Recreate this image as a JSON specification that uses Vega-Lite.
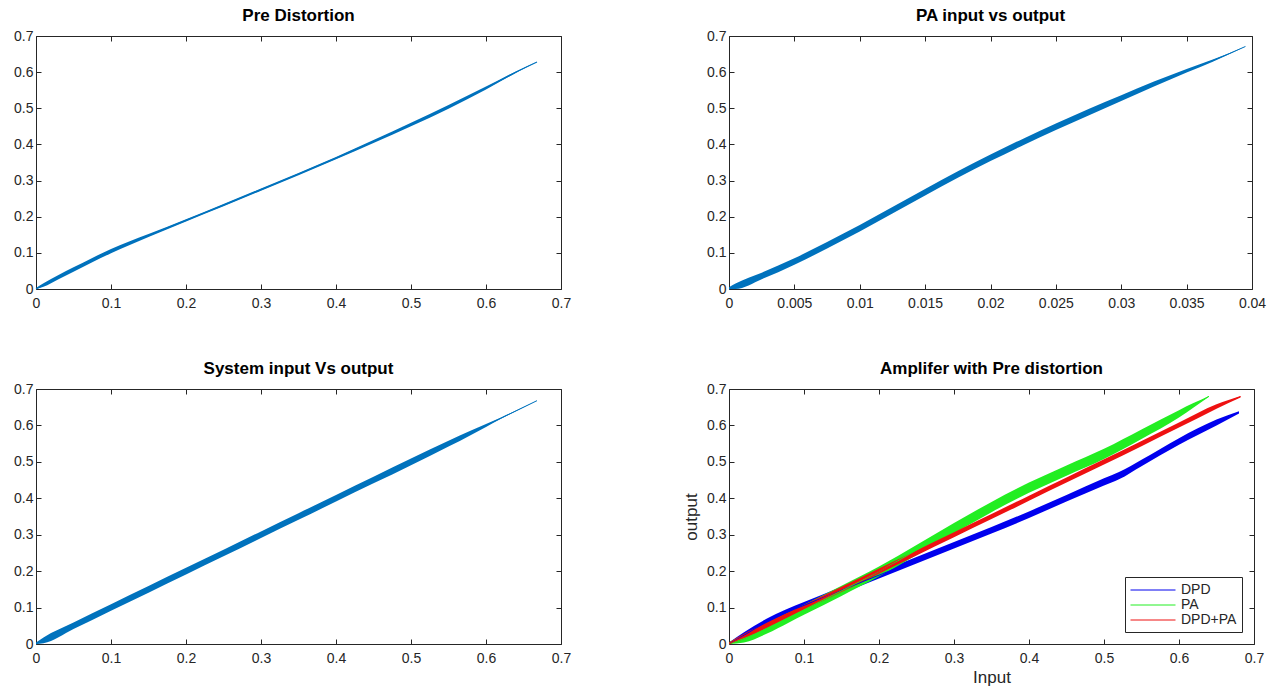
{
  "$schema": "https://vega.github.io/schema/vega-lite/v6.json",
  "padding": {"left": 13, "top": 7, "right": 5, "bottom": 5},
  "background": "white",
  "datasets": {
    "pre": [
      {"x": 0, "y": 0, "lo": 0, "hi": 0.003},
      {"x": 0.01, "y": 0.011, "lo": 0.006, "hi": 0.016},
      {"x": 0.03, "y": 0.033, "lo": 0.027, "hi": 0.039},
      {"x": 0.05, "y": 0.054, "lo": 0.048, "hi": 0.06},
      {"x": 0.075, "y": 0.08, "lo": 0.074, "hi": 0.086},
      {"x": 0.1, "y": 0.105, "lo": 0.099, "hi": 0.111},
      {"x": 0.125, "y": 0.127, "lo": 0.122, "hi": 0.132},
      {"x": 0.15, "y": 0.148, "lo": 0.144, "hi": 0.152},
      {"x": 0.2, "y": 0.19, "lo": 0.187, "hi": 0.193},
      {"x": 0.25, "y": 0.232, "lo": 0.229, "hi": 0.235},
      {"x": 0.3, "y": 0.275, "lo": 0.272, "hi": 0.278},
      {"x": 0.35, "y": 0.318, "lo": 0.315, "hi": 0.321},
      {"x": 0.4, "y": 0.362, "lo": 0.359, "hi": 0.365},
      {"x": 0.45, "y": 0.408, "lo": 0.404, "hi": 0.412},
      {"x": 0.5, "y": 0.455, "lo": 0.45, "hi": 0.46},
      {"x": 0.55, "y": 0.504, "lo": 0.499, "hi": 0.509},
      {"x": 0.6, "y": 0.556, "lo": 0.552, "hi": 0.56},
      {"x": 0.64, "y": 0.6, "lo": 0.598, "hi": 0.602},
      {"x": 0.668, "y": 0.628, "lo": 0.628, "hi": 0.628}
    ],
    "pa": [
      {"x": 0, "y": 0, "lo": 0, "hi": 0.005},
      {"x": 0.0005, "y": 0.006, "lo": 0, "hi": 0.015},
      {"x": 0.0025, "y": 0.036, "lo": 0.027, "hi": 0.045},
      {"x": 0.005, "y": 0.076, "lo": 0.067, "hi": 0.085},
      {"x": 0.0075, "y": 0.121, "lo": 0.112, "hi": 0.13},
      {"x": 0.01, "y": 0.168, "lo": 0.159, "hi": 0.177},
      {"x": 0.0125, "y": 0.218, "lo": 0.209, "hi": 0.227},
      {"x": 0.015, "y": 0.268, "lo": 0.259, "hi": 0.277},
      {"x": 0.0175, "y": 0.317, "lo": 0.308, "hi": 0.326},
      {"x": 0.02, "y": 0.363, "lo": 0.354, "hi": 0.372},
      {"x": 0.0225, "y": 0.407, "lo": 0.398, "hi": 0.416},
      {"x": 0.025, "y": 0.449, "lo": 0.44, "hi": 0.458},
      {"x": 0.0275, "y": 0.489, "lo": 0.48, "hi": 0.498},
      {"x": 0.03, "y": 0.528, "lo": 0.52, "hi": 0.536},
      {"x": 0.0325, "y": 0.567, "lo": 0.56, "hi": 0.574},
      {"x": 0.035, "y": 0.604, "lo": 0.599, "hi": 0.609},
      {"x": 0.037, "y": 0.632, "lo": 0.629, "hi": 0.635},
      {"x": 0.0395, "y": 0.671, "lo": 0.671, "hi": 0.671}
    ],
    "sys": [
      {"x": 0, "y": 0, "lo": 0, "hi": 0.004},
      {"x": 0.01, "y": 0.01, "lo": 0.002, "hi": 0.018},
      {"x": 0.05, "y": 0.05, "lo": 0.041, "hi": 0.059},
      {"x": 0.1, "y": 0.1, "lo": 0.091, "hi": 0.109},
      {"x": 0.15, "y": 0.15, "lo": 0.141, "hi": 0.159},
      {"x": 0.2, "y": 0.2, "lo": 0.191, "hi": 0.209},
      {"x": 0.25, "y": 0.25, "lo": 0.241, "hi": 0.259},
      {"x": 0.3, "y": 0.3, "lo": 0.291, "hi": 0.309},
      {"x": 0.35, "y": 0.35, "lo": 0.341, "hi": 0.359},
      {"x": 0.4, "y": 0.4, "lo": 0.391, "hi": 0.409},
      {"x": 0.45, "y": 0.45, "lo": 0.441, "hi": 0.459},
      {"x": 0.5, "y": 0.5, "lo": 0.491, "hi": 0.509},
      {"x": 0.55, "y": 0.55, "lo": 0.542, "hi": 0.558},
      {"x": 0.58, "y": 0.58, "lo": 0.574, "hi": 0.586},
      {"x": 0.6, "y": 0.6, "lo": 0.596, "hi": 0.604},
      {"x": 0.62, "y": 0.62, "lo": 0.618, "hi": 0.622},
      {"x": 0.668, "y": 0.668, "lo": 0.668, "hi": 0.668}
    ],
    "amp": [
      {"s": "DPD", "x": 0, "y": 0, "lo": 0, "hi": 0.004},
      {"s": "DPD", "x": 0.02, "y": 0.024, "lo": 0.016, "hi": 0.032},
      {"s": "DPD", "x": 0.05, "y": 0.06, "lo": 0.051, "hi": 0.069},
      {"s": "DPD", "x": 0.075, "y": 0.085, "lo": 0.076, "hi": 0.094},
      {"s": "DPD", "x": 0.1, "y": 0.106, "lo": 0.097, "hi": 0.115},
      {"s": "DPD", "x": 0.15, "y": 0.148, "lo": 0.139, "hi": 0.157},
      {"s": "DPD", "x": 0.2, "y": 0.189, "lo": 0.18, "hi": 0.198},
      {"s": "DPD", "x": 0.25, "y": 0.23, "lo": 0.221, "hi": 0.239},
      {"s": "DPD", "x": 0.3, "y": 0.271, "lo": 0.262, "hi": 0.28},
      {"s": "DPD", "x": 0.35, "y": 0.312, "lo": 0.303, "hi": 0.321},
      {"s": "DPD", "x": 0.4, "y": 0.355, "lo": 0.346, "hi": 0.364},
      {"s": "DPD", "x": 0.45, "y": 0.4, "lo": 0.391, "hi": 0.409},
      {"s": "DPD", "x": 0.5, "y": 0.445, "lo": 0.435, "hi": 0.455},
      {"s": "DPD", "x": 0.52, "y": 0.462, "lo": 0.452, "hi": 0.472},
      {"s": "DPD", "x": 0.55, "y": 0.497, "lo": 0.488, "hi": 0.506},
      {"s": "DPD", "x": 0.6, "y": 0.556, "lo": 0.547, "hi": 0.565},
      {"s": "DPD", "x": 0.65, "y": 0.608, "lo": 0.6, "hi": 0.616},
      {"s": "DPD", "x": 0.68, "y": 0.636, "lo": 0.633, "hi": 0.639},
      {"s": "PA", "x": 0, "y": 0, "lo": 0, "hi": 0.005},
      {"s": "PA", "x": 0.02, "y": 0.015, "lo": 0.004, "hi": 0.026},
      {"s": "PA", "x": 0.05, "y": 0.042, "lo": 0.028, "hi": 0.056},
      {"s": "PA", "x": 0.08, "y": 0.073, "lo": 0.059, "hi": 0.087},
      {"s": "PA", "x": 0.1, "y": 0.094, "lo": 0.08, "hi": 0.108},
      {"s": "PA", "x": 0.15, "y": 0.146, "lo": 0.132, "hi": 0.16},
      {"s": "PA", "x": 0.2, "y": 0.199, "lo": 0.185, "hi": 0.213},
      {"s": "PA", "x": 0.25, "y": 0.258, "lo": 0.244, "hi": 0.272},
      {"s": "PA", "x": 0.3, "y": 0.318, "lo": 0.304, "hi": 0.332},
      {"s": "PA", "x": 0.35, "y": 0.376, "lo": 0.362, "hi": 0.39},
      {"s": "PA", "x": 0.4, "y": 0.429, "lo": 0.415, "hi": 0.443},
      {"s": "PA", "x": 0.45, "y": 0.476, "lo": 0.462, "hi": 0.49},
      {"s": "PA", "x": 0.5, "y": 0.522, "lo": 0.508, "hi": 0.536},
      {"s": "PA", "x": 0.55, "y": 0.576, "lo": 0.563, "hi": 0.589},
      {"s": "PA", "x": 0.6, "y": 0.632, "lo": 0.622, "hi": 0.642},
      {"s": "PA", "x": 0.62, "y": 0.656, "lo": 0.65, "hi": 0.662},
      {"s": "PA", "x": 0.64, "y": 0.68, "lo": 0.679, "hi": 0.681},
      {"s": "DPD+PA", "x": 0, "y": 0, "lo": 0, "hi": 0.004},
      {"s": "DPD+PA", "x": 0.02, "y": 0.021, "lo": 0.014, "hi": 0.028},
      {"s": "DPD+PA", "x": 0.05, "y": 0.051, "lo": 0.044, "hi": 0.058},
      {"s": "DPD+PA", "x": 0.1, "y": 0.101, "lo": 0.094, "hi": 0.108},
      {"s": "DPD+PA", "x": 0.15, "y": 0.15, "lo": 0.143, "hi": 0.157},
      {"s": "DPD+PA", "x": 0.2, "y": 0.2, "lo": 0.193, "hi": 0.207},
      {"s": "DPD+PA", "x": 0.25, "y": 0.25, "lo": 0.243, "hi": 0.257},
      {"s": "DPD+PA", "x": 0.3, "y": 0.3, "lo": 0.293, "hi": 0.307},
      {"s": "DPD+PA", "x": 0.35, "y": 0.35, "lo": 0.343, "hi": 0.357},
      {"s": "DPD+PA", "x": 0.4, "y": 0.4, "lo": 0.393, "hi": 0.407},
      {"s": "DPD+PA", "x": 0.45, "y": 0.45, "lo": 0.443, "hi": 0.457},
      {"s": "DPD+PA", "x": 0.5, "y": 0.5, "lo": 0.493, "hi": 0.507},
      {"s": "DPD+PA", "x": 0.55, "y": 0.55, "lo": 0.543, "hi": 0.557},
      {"s": "DPD+PA", "x": 0.6, "y": 0.601, "lo": 0.594, "hi": 0.608},
      {"s": "DPD+PA", "x": 0.65, "y": 0.652, "lo": 0.646, "hi": 0.658},
      {"s": "DPD+PA", "x": 0.682, "y": 0.679, "lo": 0.677, "hi": 0.681}
    ]
  },
  "columns": 2,
  "spacing": {"row": 100, "column": 168},
  "bounds": "flush",
  "resolve": {"scale": {"color": "independent"}, "legend": {"color": "independent"}},
  "concat": [
    {
      "width": 525, "height": 253,
      "title": "Pre Distortion",
      "data": {"name": "pre"},
      "layer": [
        {
          "mark": {"type": "area", "color": "#0072BD", "interpolate": "monotone"},
          "encoding": {
            "x": {"field": "x", "type": "quantitative", "scale": {"domain": [0, 0.7], "nice": false}, "axis": {"orient": "bottom", "values": [0, 0.1, 0.2, 0.3, 0.4, 0.5, 0.6, 0.7], "format": "~g"}},
            "y": {"field": "lo", "type": "quantitative", "scale": {"domain": [0, 0.7], "nice": false}, "axis": {"orient": "left", "values": [0, 0.1, 0.2, 0.3, 0.4, 0.5, 0.6, 0.7], "format": "~g"}},
            "y2": {"field": "hi"}
          }
        },
        {
          "mark": {"type": "line", "color": "#0072BD", "strokeWidth": 1.2, "interpolate": "monotone"},
          "encoding": {
            "x": {"field": "x", "type": "quantitative", "axis": {"orient": "top", "labels": false, "values": [0, 0.1, 0.2, 0.3, 0.4, 0.5, 0.6, 0.7]}},
            "y": {"field": "y", "type": "quantitative", "axis": {"orient": "right", "labels": false, "values": [0, 0.1, 0.2, 0.3, 0.4, 0.5, 0.6, 0.7]}}
          }
        }
      ],
      "resolve": {"axis": {"x": "independent", "y": "independent"}}
    },
    {
      "width": 523, "height": 253,
      "title": "PA input vs output",
      "data": {"name": "pa"},
      "layer": [
        {
          "mark": {"type": "area", "color": "#0072BD", "interpolate": "monotone"},
          "encoding": {
            "x": {"field": "x", "type": "quantitative", "scale": {"domain": [0, 0.04], "nice": false}, "axis": {"orient": "bottom", "values": [0, 0.005, 0.01, 0.015, 0.02, 0.025, 0.03, 0.035, 0.04], "format": "~g"}},
            "y": {"field": "lo", "type": "quantitative", "scale": {"domain": [0, 0.7], "nice": false}, "axis": {"orient": "left", "values": [0, 0.1, 0.2, 0.3, 0.4, 0.5, 0.6, 0.7], "format": "~g"}},
            "y2": {"field": "hi"}
          }
        },
        {
          "mark": {"type": "line", "color": "#0072BD", "strokeWidth": 1, "interpolate": "monotone"},
          "encoding": {
            "x": {"field": "x", "type": "quantitative", "axis": {"orient": "top", "labels": false, "values": [0, 0.005, 0.01, 0.015, 0.02, 0.025, 0.03, 0.035, 0.04]}},
            "y": {"field": "y", "type": "quantitative", "axis": {"orient": "right", "labels": false, "values": [0, 0.1, 0.2, 0.3, 0.4, 0.5, 0.6, 0.7]}}
          }
        }
      ],
      "resolve": {"axis": {"x": "independent", "y": "independent"}}
    },
    {
      "width": 525, "height": 255,
      "title": "System input Vs output",
      "data": {"name": "sys"},
      "layer": [
        {
          "mark": {"type": "area", "color": "#0072BD", "interpolate": "monotone"},
          "encoding": {
            "x": {"field": "x", "type": "quantitative", "scale": {"domain": [0, 0.7], "nice": false}, "axis": {"orient": "bottom", "values": [0, 0.1, 0.2, 0.3, 0.4, 0.5, 0.6, 0.7], "format": "~g"}},
            "y": {"field": "lo", "type": "quantitative", "scale": {"domain": [0, 0.7], "nice": false}, "axis": {"orient": "left", "values": [0, 0.1, 0.2, 0.3, 0.4, 0.5, 0.6, 0.7], "format": "~g"}},
            "y2": {"field": "hi"}
          }
        },
        {
          "mark": {"type": "line", "color": "#0072BD", "strokeWidth": 1, "interpolate": "monotone"},
          "encoding": {
            "x": {"field": "x", "type": "quantitative", "axis": {"orient": "top", "labels": false, "values": [0, 0.1, 0.2, 0.3, 0.4, 0.5, 0.6, 0.7]}},
            "y": {"field": "y", "type": "quantitative", "axis": {"orient": "right", "labels": false, "values": [0, 0.1, 0.2, 0.3, 0.4, 0.5, 0.6, 0.7]}}
          }
        }
      ],
      "resolve": {"axis": {"x": "independent", "y": "independent"}}
    },
    {
      "width": 525, "height": 255,
      "title": "Amplifer with Pre distortion",
      "data": {"name": "amp"},
      "layer": [
        {
          "mark": {"type": "area", "interpolate": "monotone"},
          "encoding": {
            "x": {"field": "x", "type": "quantitative", "scale": {"domain": [0, 0.7], "nice": false}, "axis": {"orient": "bottom", "values": [0, 0.1, 0.2, 0.3, 0.4, 0.5, 0.6, 0.7], "format": "~g", "title": "Input", "titlePadding": 4}},
            "y": {"field": "lo", "type": "quantitative", "scale": {"domain": [0, 0.7], "nice": false}, "axis": {"orient": "left", "values": [0, 0.1, 0.2, 0.3, 0.4, 0.5, 0.6, 0.7], "format": "~g", "title": "output", "titlePadding": 6}},
            "y2": {"field": "hi"},
            "color": {"field": "s", "type": "nominal", "scale": {"domain": ["DPD", "PA", "DPD+PA"], "range": ["#0000ee", "#22ee22", "#ee1111"]},
              "legend": {"title": null, "orient": "bottom-right", "offset": 12, "symbolType": "M-1,0H5", "symbolSize": 225, "symbolStrokeWidth": 1, "symbolFillColor": "transparent", "labelOffset": 35, "padding": 5, "rowPadding": 0, "strokeColor": "#262626", "fillColor": "white", "labelFontSize": 14, "labelFont": "Liberation Sans", "labelColor": "#262626"}}
          }
        },
        {
          "mark": {"type": "line", "strokeWidth": 1, "interpolate": "monotone"},
          "encoding": {
            "x": {"field": "x", "type": "quantitative", "axis": {"orient": "top", "labels": false, "title": null, "values": [0, 0.1, 0.2, 0.3, 0.4, 0.5, 0.6, 0.7]}},
            "y": {"field": "y", "type": "quantitative", "axis": {"orient": "right", "labels": false, "title": null, "values": [0, 0.1, 0.2, 0.3, 0.4, 0.5, 0.6, 0.7]}},
            "color": {"field": "s", "type": "nominal"}
          }
        }
      ],
      "resolve": {"axis": {"x": "independent", "y": "independent"}}
    }
  ],
  "config": {
    "view": {"stroke": null},
    "font": "Liberation Sans",
    "axis": {"grid": false, "domainColor": "#262626", "tickColor": "#262626", "labelColor": "#262626", "labelFontSize": 14, "labelFont": "Liberation Sans", "tickSize": -5, "labelFlush": false, "labelOverlap": false, "title": null, "titleFont": "Liberation Sans", "titleFontSize": 17, "titleFontWeight": "normal", "titleColor": "#262626", "domainWidth": 1, "tickWidth": 1},
    "axisX": {"labelPadding": 12},
    "axisY": {"labelPadding": 8},
    "title": {"fontSize": 17, "font": "Liberation Sans", "fontWeight": "bold", "color": "#000000", "offset": 0, "anchor": "middle"}
  }
}
